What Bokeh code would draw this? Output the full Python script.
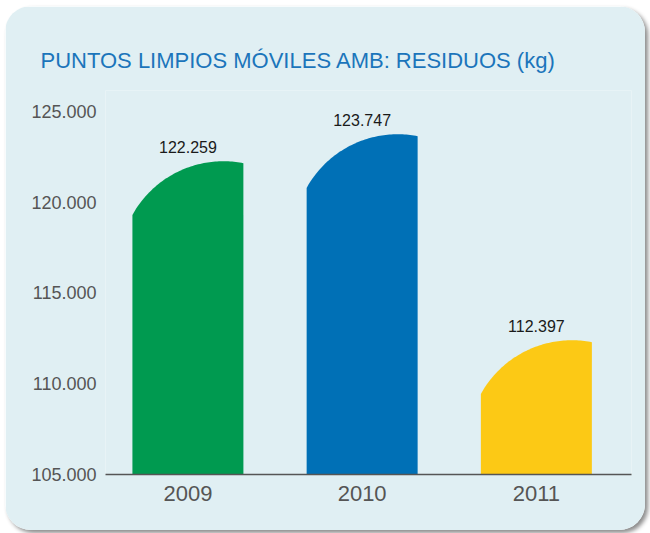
import numpy as np
from bokeh.plotting import figure
from bokeh.models import FixedTicker, Range1d, ColumnDataSource
from bokeh.core.properties import value
from bokeh.embed import file_html
from bokeh.resources import INLINE

# ---- data ----
TITLE = "PUNTOS LIMPIOS MÓVILES AMB: RESIDUOS (kg)"
YEARS = ["2009", "2010", "2011"]
VALUES = [122259, 123747, 112397]
VALUE_LABELS = ["122.259", "123.747", "112.397"]
COLORS = ["#009a50", "#0070b6", "#fcc915"]
Y_TICKS = [105000, 110000, 115000, 120000, 125000]
Y_TICK_LABELS = ["105.000", "110.000", "115.000", "120.000", "125.000"]

# ---- style / geometry ----
BASE = 105000
PANEL = "#e0eff3"
HALF_W = 0.3185
PEAK_FRAC = 0.82
ARC_RX = 0.597
ARC_RY = 5730.0

p = figure(width=640, height=524, output_backend="svg", toolbar_location=None,
           x_range=Range1d(-0.473, 2.546), y_range=Range1d(BASE, 126157),
           min_border_left=100, min_border_right=14, min_border_top=84,
           min_border_bottom=56)
p.styles = {"margin-left": "5px", "margin-top": "6px",
            "border-radius": "26px", "overflow": "hidden",
            "box-shadow": "3px 3px 4px rgba(0,0,0,0.45)"}
p.background_fill_color = PANEL
p.border_fill_color = PANEL
p.outline_line_color = None
p.grid.grid_line_color = None

# title
p.title.text = TITLE
p.title.align = "left"
p.title.offset = -65
p.title.standoff = 35
p.title.text_font = "Liberation Sans"
p.title.text_font_size = "22px"
p.title.text_font_style = "normal"
p.title.text_color = "#1b75bb"

# bars with curved tops
xs, ys = [], []
for i, v in enumerate(VALUES):
    x0, x1 = i - HALF_W, i + HALF_W
    xp = x0 + PEAK_FRAC * (x1 - x0)
    ax = np.linspace(x0, x1, 60)
    ay = v - ARC_RY * (1 - np.sqrt(np.clip(1 - ((ax - xp) / ARC_RX) ** 2, 0, 1)))
    xs.append([x0] + list(ax) + [x1])
    ys.append([BASE] + list(ay) + [BASE])
p.patches(xs=xs, ys=ys, fill_color=COLORS, line_color=None)

# value labels
src = ColumnDataSource(dict(x=list(range(len(VALUES))), y=VALUES, t=VALUE_LABELS))
p.text(x="x", y="y", text="t", source=src, y_offset=-14,
       text_align="center", text_baseline="alphabetic",
       text_font=value("Liberation Sans"),
       text_font_size="16px", text_color="#1a1a1a")

# y axis
p.yaxis.ticker = FixedTicker(ticks=Y_TICKS)
p.yaxis.major_label_overrides = dict(zip(Y_TICKS, Y_TICK_LABELS))
p.yaxis.axis_line_color = None
p.yaxis.major_tick_line_color = None
p.yaxis.minor_tick_line_color = None
p.yaxis.major_tick_out = 0
p.yaxis.major_tick_in = 0
p.yaxis.major_label_standoff = 9
p.yaxis.major_label_text_font = "Liberation Sans"
p.yaxis.major_label_text_font_size = "18px"
p.yaxis.major_label_text_color = "#555555"

# x axis
p.xaxis.ticker = FixedTicker(ticks=list(range(len(YEARS))))
p.xaxis.major_label_overrides = {i: y for i, y in enumerate(YEARS)}
p.xaxis.axis_line_color = "#555555"
p.xaxis.axis_line_width = 1.5
p.xaxis.major_tick_line_color = None
p.xaxis.minor_tick_line_color = None
p.xaxis.major_tick_out = 0
p.xaxis.major_tick_in = 0
p.xaxis.major_label_standoff = 11
p.xaxis.major_label_text_font = "Liberation Sans"
p.xaxis.major_label_text_font_size = "22px"
p.xaxis.major_label_text_color = "#555555"

open("out.html", "w").write(file_html(p, INLINE))
